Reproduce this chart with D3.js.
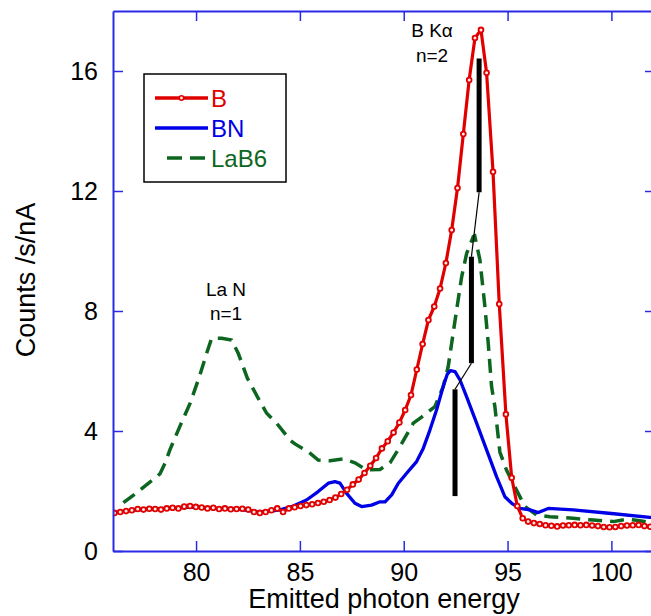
<!DOCTYPE html>
<html>
<head>
<meta charset="utf-8">
<script src="https://cdn.jsdelivr.net/npm/d3@7"></script>
<style>
  body { margin: 0; background: #fff; }
  svg { display: block; font-family: 'Liberation Sans', Arial, sans-serif; }
</style>
</head>
<body>
<script>
// spectra: [energy, counts]
var bData = [
  [76.07,1.27],[76.35,1.3],[76.63,1.33],[76.91,1.36],[77.19,1.4],[77.47,1.38],[77.75,1.41],[78.03,1.4],
  [78.31,1.38],[78.59,1.42],[78.87,1.44],[79.15,1.42],[79.43,1.48],[79.71,1.5],[79.99,1.47],[80.27,1.45],
  [80.55,1.42],[80.83,1.44],[81.11,1.4],[81.39,1.42],[81.67,1.39],[81.95,1.4],[82.23,1.41],[82.51,1.38],
  [82.79,1.3],[83.07,1.27],[83.35,1.3],[83.63,1.36],[83.91,1.42],[84.19,1.3],[84.47,1.42],[84.75,1.46],
  [85.03,1.5],[85.31,1.53],[85.59,1.56],[85.87,1.6],[86.15,1.64],[86.43,1.7],[86.71,1.78],[86.99,1.9],
  [87.27,2.04],[87.55,2.22],[87.83,2.38],[88.11,2.6],[88.39,2.84],[88.67,3.1],[88.95,3.42],[89.23,3.66],
  [89.51,3.95],[89.79,4.28],[90.07,4.7],[90.35,5.2],[90.63,6.05],[90.91,6.9],[91.19,7.7],[91.47,8.15],
  [91.75,8.75],[92.03,9.6],[92.31,10.7],[92.59,12.1],[92.87,13.9],[93.15,15.7],[93.43,17.1],[93.72,17.37],
  [93.99,15.94],[94.3,12.64],[94.6,8.23],[94.92,4.56],[95.2,2.44],[95.47,1.5],[95.73,1.09],[95.99,0.98],
  [96.27,0.93],[96.55,0.9],[96.83,0.86],[97.11,0.84],[97.39,0.82],[97.67,0.85],[97.95,0.86],[98.23,0.87],
  [98.51,0.86],[98.79,0.87],[99.07,0.85],[99.35,0.83],[99.63,0.8],[99.91,0.79],[100.19,0.8],[100.47,0.83],
  [100.75,0.85],[101.03,0.86],[101.31,0.87],[101.59,0.83],[101.87,0.81]
];

var bnData = [
  [76.0,1.28],[77,1.36],[78,1.4],[79,1.44],[80,1.46],[81,1.42],[82,1.4],[83,1.3],[83.6,1.33],
  [84.04,1.37],[84.68,1.5],[85.32,1.7],[85.88,1.98],[86.37,2.26],[86.69,2.31],[86.93,2.26],[87.25,1.92],
  [87.65,1.59],[87.97,1.48],[88.45,1.53],[88.86,1.64],[89.1,1.64],[89.42,1.87],[89.74,2.26],[90.14,2.59],
  [90.62,2.98],[90.94,3.42],[91.26,4.03],[91.58,4.7],[91.9,5.48],[92.1,5.9],[92.25,6.01],[92.47,5.98],
  [92.71,5.7],[93.03,5.14],[93.51,4.26],[93.99,3.37],[94.47,2.48],[94.87,1.81],[95.2,1.59],[95.6,1.42],
  [96.08,1.37],[96.48,1.28],[96.96,1.42],[98.16,1.37],[100,1.25],[101.85,1.12],[102.1,1.11]
];

var lab6Data = [
  [76.5,1.61],[77.06,1.9],[78.26,2.57],[78.5,2.92],[78.74,3.37],[79.23,4.17],[79.71,4.92],[80.16,5.81],
  [80.51,6.59],[80.75,7.09],[81.23,7.09],[81.71,7.03],[82.03,6.59],[82.47,5.76],[83.08,4.98],[83.4,4.59],
  [83.88,4.26],[84.52,3.7],[84.76,3.57],[85.4,3.31],[85.88,3.03],[86.45,3.01],[87.09,3.07],[87.65,2.94],
  [88.21,2.7],[88.86,2.72],[89.34,2.94],[89.82,3.48],[90.14,3.87],[90.46,4.26],[90.86,4.46],[91.5,4.81],
  [91.9,5.48],[92.14,6.14],[92.38,7.26],[92.62,8.37],[92.79,9.14],[93.03,9.92],[93.35,10.48],[93.42,10.5],
  [93.67,9.7],[93.91,8.14],[94.07,6.92],[94.23,5.48],[94.39,4.81],[94.63,3.3],[94.95,2.7],[95.35,2.14],
  [95.84,1.48],[96.4,1.2],[97.04,1.14],[98.16,1.09],[99.13,1.03],[100.09,0.98],[100.73,1.06],[101.37,1.01],
  [102.1,0.92]
];

// vertical marker bars (energy, bottom, top)
var barEnergy = [93.63, 93.26, 92.47];
var barLow = [11.96, 6.26, 1.83];
var barHigh = [16.42, 9.81, 5.39];

var xTicks = [80, 85, 90, 95, 100];
var yTicks = [0, 4, 8, 12, 16];

var seriesNames = ['B', 'BN', 'LaB6'];
var seriesColors = ['#e00000', '#0000e6', '#0d6620'];

var width = 651, height = 616;
var plotLeft = 113, plotRight = 655, plotTop = 11, plotBottom = 551;
var axisColor = '#2a2ae6';

var x = d3.scaleLinear().domain([76, 102.1]).range([plotLeft, plotRight]);
var y = d3.scaleLinear().domain([0, 18]).range([plotBottom, plotTop]);

var svg = d3.select('body').append('svg')
  .attr('width', width)
  .attr('height', height);

svg.append('clipPath').attr('id', 'plot')
  .append('rect')
  .attr('x', plotLeft).attr('y', plotTop)
  .attr('width', plotRight - plotLeft).attr('height', plotBottom - plotTop);

var line = d3.line()
  .x(function(d) { return x(d[0]); })
  .y(function(d) { return y(d[1]); });

var plot = svg.append('g').attr('clip-path', 'url(#plot)');

plot.append('path')
  .datum(lab6Data)
  .attr('d', line)
  .attr('fill', 'none')
  .attr('stroke', seriesColors[2])
  .attr('stroke-width', 3.5)
  .attr('stroke-dasharray', '14,8');

plot.append('path')
  .datum(bnData)
  .attr('d', line)
  .attr('fill', 'none')
  .attr('stroke', seriesColors[1])
  .attr('stroke-width', 3.3)
  .attr('stroke-linejoin', 'round');

plot.append('path')
  .datum(bData)
  .attr('d', line)
  .attr('fill', 'none')
  .attr('stroke', seriesColors[0])
  .attr('stroke-width', 3.2)
  .attr('stroke-linejoin', 'round');

plot.selectAll('circle.b').data(bData).enter().append('circle')
  .attr('class', 'b')
  .attr('cx', function(d) { return x(d[0]); })
  .attr('cy', function(d) { return y(d[1]); })
  .attr('r', 2.4)
  .attr('fill', '#fbeaea')
  .attr('stroke', seriesColors[0])
  .attr('stroke-width', 1.8);

// black bars and thin links between them
plot.selectAll('line.bar').data(barEnergy).enter().append('line')
  .attr('class', 'bar')
  .attr('x1', function(d) { return x(d); })
  .attr('x2', function(d) { return x(d); })
  .attr('y1', function(d, i) { return y(barLow[i]); })
  .attr('y2', function(d, i) { return y(barHigh[i]); })
  .attr('stroke', '#000')
  .attr('stroke-width', 5);

plot.selectAll('line.link').data(barEnergy.slice(1)).enter().append('line')
  .attr('class', 'link')
  .attr('x1', function(d, i) { return x(barEnergy[i]); })
  .attr('y1', function(d, i) { return y(barLow[i]); })
  .attr('x2', function(d) { return x(d); })
  .attr('y2', function(d, i) { return y(barHigh[i + 1]); })
  .attr('stroke', '#000')
  .attr('stroke-width', 1.2);

// axes frame
var axisBottom = d3.axisBottom(x).tickValues(xTicks).tickSize(-10).tickSizeOuter(0).tickPadding(12);
var axisTop = d3.axisTop(x).tickValues(xTicks).tickSize(-10).tickSizeOuter(0).tickFormat('');
var axisLeft = d3.axisLeft(y).tickValues(yTicks).tickSize(-10).tickSizeOuter(0).tickPadding(15);
var axisRight = d3.axisRight(y).tickValues(yTicks).tickSize(-10).tickSizeOuter(0).tickFormat('');

svg.append('g').attr('transform', 'translate(0,' + plotBottom + ')').call(axisBottom);
svg.append('g').attr('transform', 'translate(0,' + plotTop + ')').call(axisTop);
svg.append('g').attr('transform', 'translate(' + plotLeft + ',0)').call(axisLeft);
svg.append('g').attr('transform', 'translate(' + plotRight + ',0)').call(axisRight);

svg.selectAll('.domain')
  .attr('stroke', axisColor)
  .attr('stroke-width', 2);
svg.selectAll('.tick line')
  .attr('stroke', axisColor)
  .attr('stroke-width', 1.5);
svg.selectAll('.tick text')
  .attr('fill', '#000')
  .style('font-size', '25px')
  .style('font-family', "'Liberation Sans', Arial, sans-serif");

// axis titles
svg.append('text')
  .attr('x', 384).attr('y', 608)
  .attr('text-anchor', 'middle')
  .style('font-size', '27px')
  .text('Emitted photon energy');

svg.append('text')
  .attr('transform', 'translate(35,280) rotate(-90)')
  .attr('text-anchor', 'middle')
  .style('font-size', '27px')
  .text('Counts /s/nA');

// peak labels
var notes = [
  { t: 'B K\u03b1', x: 432, y: 37 },
  { t: 'n=2', x: 432, y: 62 },
  { t: 'La N', x: 226, y: 296 },
  { t: 'n=1', x: 226, y: 320 }
];
svg.selectAll('text.note').data(notes).enter().append('text')
  .attr('class', 'note')
  .attr('x', function(d) { return d.x; })
  .attr('y', function(d) { return d.y; })
  .attr('text-anchor', 'middle')
  .style('font-size', '19px')
  .text(function(d) { return d.t; });

// legend
var legend = svg.append('g');
legend.append('rect')
  .attr('x', 144).attr('y', 74)
  .attr('width', 142).attr('height', 108)
  .attr('fill', '#fff')
  .attr('stroke', '#000')
  .attr('stroke-width', 1.5);

var rows = legend.selectAll('g.row').data(seriesNames).enter().append('g')
  .attr('class', 'row')
  .attr('transform', function(d, i) { return 'translate(0,' + (98 + i * 30) + ')'; });

rows.append('line')
  .attr('x1', function(d, i) { return i === 2 ? 167 : 155; })
  .attr('x2', 208)
  .attr('stroke', function(d, i) { return seriesColors[i]; })
  .attr('stroke-width', 3.5)
  .attr('stroke-dasharray', function(d, i) { return i === 2 ? '15,8' : null; });

rows.filter(function(d, i) { return i === 0; }).append('circle')
  .attr('cx', 181.5).attr('r', 2.2)
  .attr('fill', '#fbeaea')
  .attr('stroke', seriesColors[0])
  .attr('stroke-width', 1.6);

rows.append('text')
  .attr('x', 211).attr('y', 9)
  .attr('fill', function(d, i) { return seriesColors[i]; })
  .style('font-size', '24px')
  .text(function(d) { return d; });
</script>
</body>
</html>
